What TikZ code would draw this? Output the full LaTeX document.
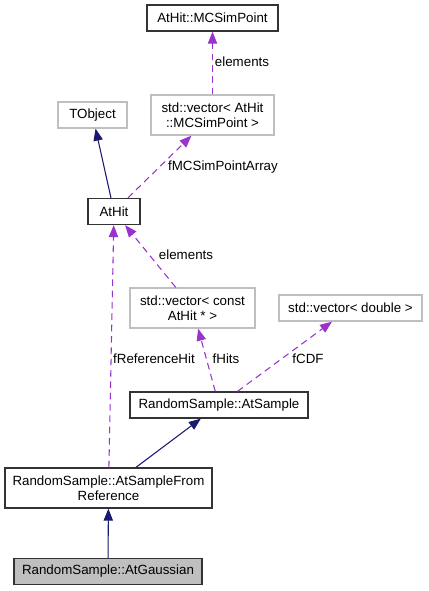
\documentclass[tikz,border=0pt]{standalone}
\usepackage{fontspec}
\setmainfont{Liberation Sans}
\usetikzlibrary{arrows.meta}
\definecolor{edgeblue}{HTML}{191970}
\definecolor{edgepurple}{HTML}{9A32CD}
\definecolor{boxgray}{HTML}{BFBFBF}
\tikzset{
	classnode/.style = {align=center, inner sep=0pt, text centered,
		font=\fontsize{10}{11.5}\selectfont, rectangle, minimum height=19.5pt},
	cls_doc/.style = {classnode, draw=black!80, line width=1pt},% classe documentee
	cls_ext/.style = {classnode, draw=boxgray, line width=1pt},% classe externe
	cls_cur/.style = {cls_doc, fill=boxgray},% classe courante
	inherit/.style = {edgeblue, line width=0.8pt,
		-{Triangle[length=9pt,width=7pt]}},% heritage
	usage/.style = {edgepurple, line width=0.8pt, dash pattern=on 5pt off 3.5pt,
		-{Triangle[length=9pt,width=7pt]}},% utilisation
	elabel/.style = {font=\fontsize{10}{12}\selectfont, inner sep=0pt}
}

\begin{document}
\begin{tikzpicture}[x=0.75pt,y=-0.75pt]
	\useasboundingbox (0,0) rectangle (428,591);
	\node [cls_doc, minimum width=98.25pt] (mcsim) at (212.5,18) {AtHit::MCSimPoint};
	\node [cls_ext, minimum width=51.75pt] (tobject) at (92.5,115) {TObject};
	\node [cls_ext, minimum width=92.25pt, minimum height=30pt] (vecmc) at (212.5,115)
		{std::vector\textless{} AtHit\\::MCSimPoint \textgreater};
	\node [cls_doc, minimum width=39pt] (athit) at (114,211.5) {AtHit};
	\node [cls_ext, minimum width=93.75pt, minimum height=30pt] (vecconst) at (192.5,308)
		{std::vector\textless{} const\\AtHit * \textgreater};
	\node [cls_ext, minimum width=107.25pt] (vecdouble) at (350.5,308)
		{std::vector\textless{} double \textgreater};
	\node [cls_doc, minimum width=133.5pt] (atsample) at (219,405) {RandomSample::AtSample};
	\node [cls_doc, minimum width=155.25pt, minimum height=30pt] (fromref) at (108.5,488)
		{RandomSample::AtSampleFrom\\Reference};
	\node [cls_cur, minimum width=141pt] (gauss) at (108,571.5) {RandomSample::AtGaussian};

	\draw [usage] (vecmc) -- (mcsim);
	\draw [inherit] (athit) -- (tobject);
	\draw [usage] (athit) -- (vecmc);
	\draw [usage] (vecconst) -- (athit);
	\draw [usage] (fromref) -- (athit);
	\draw [usage] (atsample) -- (vecconst);
	\draw [usage] (atsample) -- (vecdouble);
	\draw [inherit] (fromref) -- (atsample);
	\draw [inherit] (gauss) -- (fromref);

	\node [elabel] (lbl_elem1) at (242,62) {elements};
	\node [elabel] (lbl_mcarr) at (223,167) {fMCSimPointArray};
	\node [elabel] (lbl_elem2) at (186,255) {elements};
	\node [elabel] (lbl_ref) at (154,359) {fReferenceHit};
	\node [elabel] (lbl_hits) at (226,359) {fHits};
	\node [elabel] (lbl_cdf) at (308,359) {fCDF};
\end{tikzpicture}
\end{document}
